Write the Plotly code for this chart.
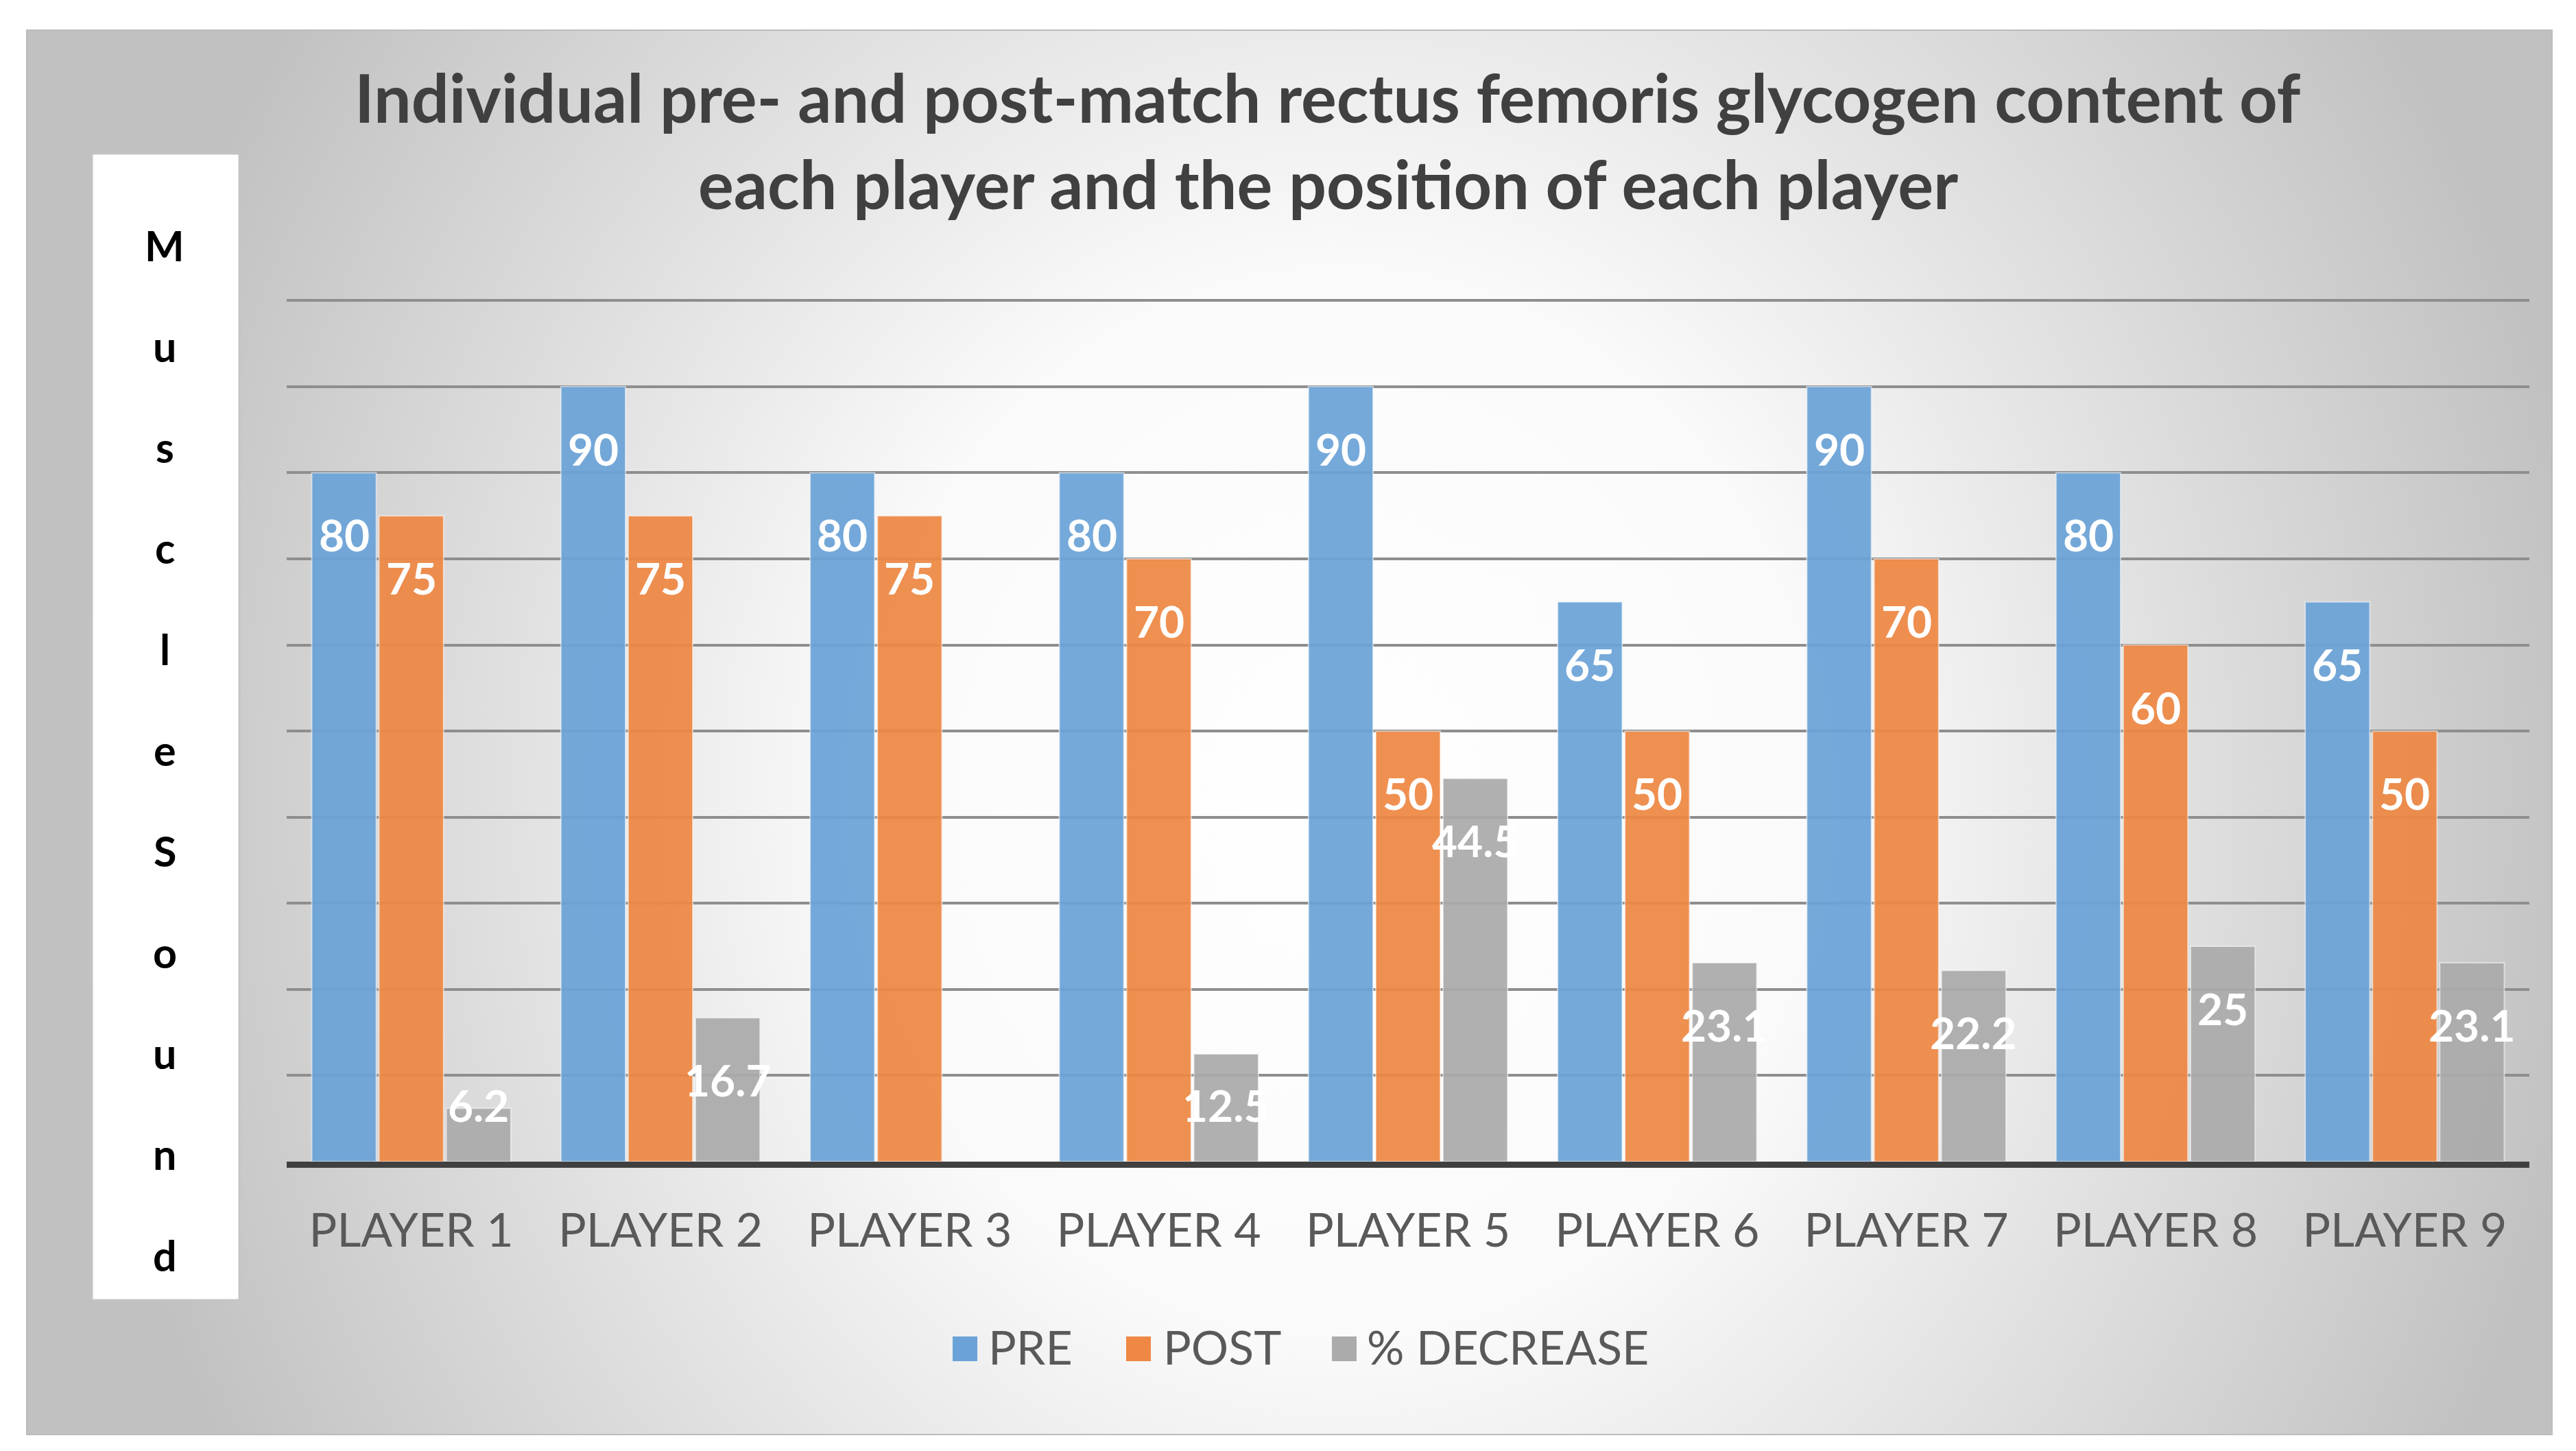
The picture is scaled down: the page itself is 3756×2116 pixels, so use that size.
import base64
import plotly.graph_objects as go

# ---------------- data ----------------
players = ["PLAYER 1", "PLAYER 2", "PLAYER 3", "PLAYER 4", "PLAYER 5",
           "PLAYER 6", "PLAYER 7", "PLAYER 8", "PLAYER 9"]
pre = [80, 90, 80, 80, 90, 65, 90, 80, 65]
post = [75, 75, 75, 70, 50, 50, 70, 60, 50]
pct_decrease = [6.2, 16.7, None, 12.5, 44.5, 23.1, 22.2, 25, 23.1]
series_names = ["PRE", "POST", "% DECREASE"]
y_title_letters = "MuscleSound"
title_lines = ["Individual pre- and post-match rectus femoris glycogen content of",
               "each player and the position of each player"]

# ---------------- style ----------------
W, H = 3756, 2116
L, R, T, B = 410, 76, 429, 430
PW, PH = W - L - R, H - T - B
colors = ["#6BA3D8", "#EE8844", "#ABABAB"]
BARGAP, BARGROUPGAP = 0.19, 0.04
FONT = "Lato"
LABEL_MIN = 13.8   # labels never drop lower than this level (as Excel does)


def px_x(x):
    return (x - L) / PW


def px_y(y):
    return (H - B - y) / PH


fig = go.Figure()
series = [pre, post, pct_decrease]
for name, vals, col in zip(series_names, series, colors):
    fig.add_trace(go.Bar(
        x=players, y=vals, name=name, showlegend=False,
        marker=dict(color=col, line=dict(color="rgba(255,255,255,0.55)", width=2)),
        opacity=0.93,
    ))

# data labels (inside end, white bold)
pitch = PW / len(players) * (1 - BARGAP) / 3
annotations = []
for i, vals in enumerate(series):
    for p, v in zip(players, vals):
        if v is None:
            continue
        annotations.append(dict(
            x=p, y=max(v, LABEL_MIN), xref="x", yref="y",
            xshift=(i - 1) * pitch, yshift=-50, yanchor="top", xanchor="center",
            text=f"{v:g}", showarrow=False,
            font=dict(family=FONT, size=64, color="white", weight="bold"),
        ))

# title (two lines)
for k, (line, ymid) in enumerate(zip(title_lines, [134, 259])):
    annotations.append(dict(
        x=px_x(1928), y=px_y(ymid), xref="paper", yref="paper",
        xanchor="center", yanchor="middle", text=line, showarrow=False,
        font=dict(family=FONT, size=97, color="#404040", weight="bold"),
    ))

# stacked vertical axis title
for k, ch in enumerate(y_title_letters):
    baseline = 372 + 147.3 * k
    annotations.append(dict(
        x=px_x(232), y=px_y(baseline - 23), xref="paper", yref="paper",
        xanchor="center", yanchor="middle", text=ch, showarrow=False,
        font=dict(family=FONT, size=61, color="#000000", weight="bold"),
    ))

# legend (drawn manually to get large swatches)
shapes = []
legend_sq_x = [1381, 1634, 1934]
legend_txt_x = [1431, 1686, 1983]
for name, col, sx, tx in zip(series_names, colors, legend_sq_x, legend_txt_x):
    shapes.append(dict(type="rect", xref="paper", yref="paper",
                       x0=px_x(sx), x1=px_x(sx + 36), y0=px_y(1941), y1=px_y(1977),
                       fillcolor=col, line=dict(width=0)))
    annotations.append(dict(
        x=px_x(tx), y=px_y(1955), xref="paper", yref="paper",
        xanchor="left", yanchor="middle", text=name, showarrow=False,
        font=dict(family=FONT, size=68, color="#595959"),
    ))

# white box behind vertical title
shapes.append(dict(type="rect", xref="paper", yref="paper", layer="below",
                   x0=px_x(126), x1=px_x(341), y0=px_y(1888), y1=px_y(216),
                   fillcolor="white", line=dict(color="#c4c4c4", width=3)))
# panel border
shapes.append(dict(type="rect", xref="paper", yref="paper", layer="below",
                   x0=px_x(31), x1=px_x(3713), y0=px_y(2084), y1=px_y(36),
                   fillcolor="rgba(0,0,0,0)", line=dict(color="#bcbcbc", width=2)))

# radial gradient panel background
svg = (
    "<svg xmlns='http://www.w3.org/2000/svg' width='3682' height='2048' "
    "viewBox='0 0 3682 2048' preserveAspectRatio='none'>"
    "<defs><radialGradient id='g' cx='0.52' cy='0.55' r='0.5' "
    "gradientTransform='translate(0.52 0.55) scale(1 2) translate(-0.52 -0.55)'>"
    "<stop offset='0' stop-color='#ffffff'/>"
    "<stop offset='0.38' stop-color='#fafafa'/>"
    "<stop offset='1' stop-color='#c1c1c1'/>"
    "</radialGradient></defs>"
    "<rect x='0' y='0' width='3682' height='2048' fill='url(#g)'/></svg>"
)
src = "data:image/svg+xml;base64," + base64.b64encode(svg.encode()).decode()
images = [dict(source=src, xref="paper", yref="paper",
               x=px_x(31), y=px_y(36), sizex=px_x(3713) - px_x(31),
               sizey=px_y(36) - px_y(2084), sizing="stretch",
               xanchor="left", yanchor="top", layer="below")]

fig.update_layout(
    width=W, height=H,
    margin=dict(l=L, r=R, t=T, b=B),
    paper_bgcolor="white", plot_bgcolor="rgba(0,0,0,0)",
    barmode="group", bargap=BARGAP, bargroupgap=BARGROUPGAP,
    showlegend=False,
    annotations=annotations, shapes=shapes, images=images,
    xaxis=dict(showline=True, linecolor="#404040", linewidth=9, ticks="",
               showgrid=False, ticklabelstandoff=33,
               tickfont=dict(family=FONT, size=68, color="#595959")),
    yaxis=dict(range=[0, 100.1], tickvals=list(range(10, 101, 10)), showgrid=True,
               gridcolor="#8e8e8e", gridwidth=4, showticklabels=False,
               zeroline=False, showline=False),
)

fig.write_html("out.html")
